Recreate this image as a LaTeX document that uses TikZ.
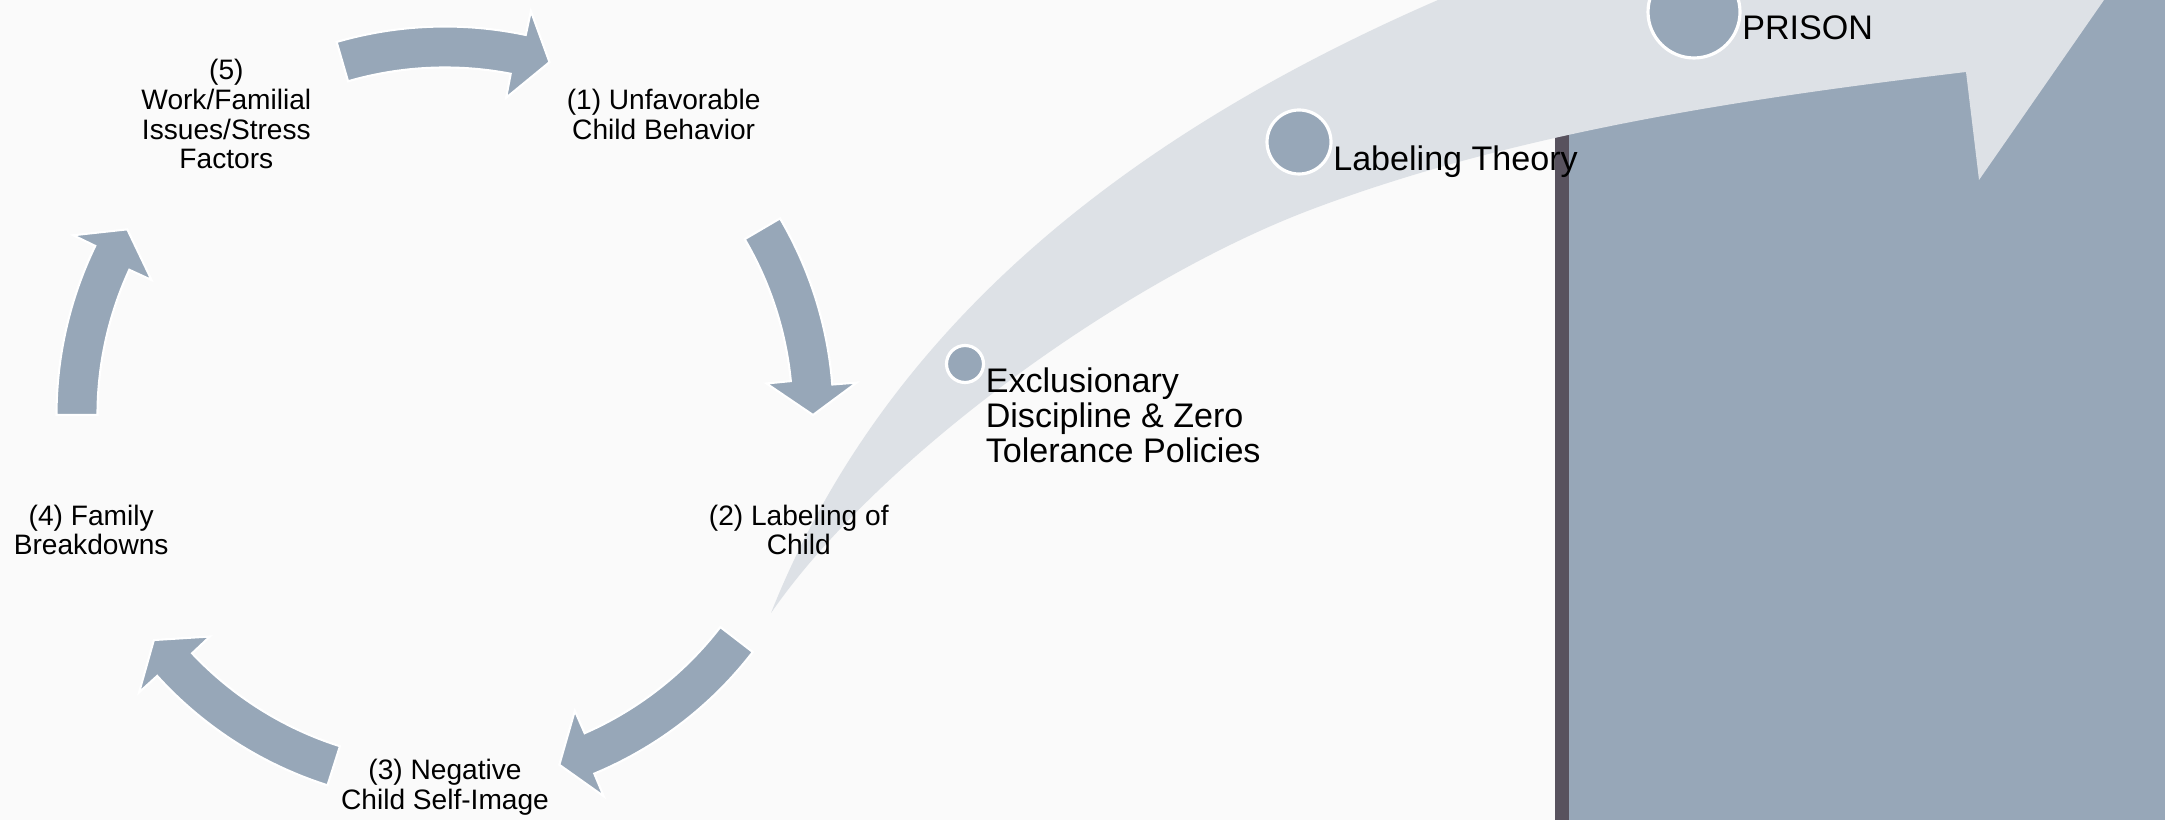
\documentclass[tikz,border=0pt]{standalone}
\usepackage{fontspec}
\setmainfont{Liberation Sans}
\usetikzlibrary{calc}

\definecolor{slate}{HTML}{97A7B8}
\definecolor{mist}{HTML}{DDE1E6}
\definecolor{paper}{HTML}{FAFAFA}
\definecolor{plum}{HTML}{58525E}

\tikzset{
	cycarrow/.style={fill=slate, draw=white, line width=0.6pt},
	cyctext/.style={align=center, inner sep=0pt, font=\fontsize{8pt}{8.5pt}\selectfont},
	dot/.style={circle, fill=slate, draw=white, line width=0.9pt, inner sep=0pt},
	bandtext/.style={inner sep=0pt, font=\fontsize{9.7pt}{10pt}\selectfont}
}

\begin{document}
\begin{tikzpicture}
	\useasboundingbox (0,0) rectangle (21.65,8.2);
	\clip (0,0) rectangle (21.65,8.2);
	\fill[paper] (0,0) rectangle (21.65,8.2);
	\fill[slate] (15.687,0) rectangle (21.65,8.2);
	\fill[plum] (15.55,0) rectangle (15.687,7);

	\fill[mist] (7.71,2.07) .. controls (8.79,3.63) and (11.23,5.39) .. (13.10,6.10)
		.. controls (15.16,6.88) and (17.48,7.22) .. (19.66,7.48)
		-- (19.79,6.40) -- (21.04,8.20) -- (22.0,9.6) -- (16.5,9.1) -- (14.38,8.20)
		.. controls (11.16,6.80) and (8.82,4.86) .. (7.71,2.07) -- cycle;

	\node[dot, minimum size=3.7mm] (exdot) at (9.65,4.56) {};
	\node[dot, minimum size=6.4mm] (labdot) at (12.99,6.78) {};
	\node[dot, minimum size=9.2mm] (prisondot) at (16.94,8.08) {};
	\node[bandtext, anchor=north west, align=left] (extxt) at ([yshift=-0.3mm]exdot.east)
		{Exclusionary\\Discipline \& Zero\\Tolerance Policies};
	\node[bandtext, anchor=base west] (labtxt) at ([yshift=-2.85mm]labdot.east) {Labeling Theory};
	\node[bandtext, anchor=base west] (prisontxt) at ([yshift=-2.8mm]prisondot.east) {PRISON};

	\begin{scope}[shift={(4.45,4.05)}]
		\def\cycR{3.68}
		\pgfmathsetmacro\ro{\cycR+0.205}
		\pgfmathsetmacro\ri{\cycR-0.205}
		\pgfmathsetmacro\rh{\cycR+0.45}
		\pgfmathsetmacro\rl{\cycR-0.45}
		\foreach \a/\b in {106.2/73.5, 30.4/0, -37.6/-71.9, -107.6/-142.3, 180/149.7} {
			\pgfmathsetmacro\nko{\b+4.5}
			\pgfmathsetmacro\nki{\b+5.6}
			\fill[cycarrow] (\a:\ro) arc[start angle=\a, end angle=\nko, radius=\ro]
				-- (\nko:\rh) -- (\b:\cycR) -- (\nki:\rl) -- (\nki:\ri)
				arc[start angle=\nki, end angle=\a, radius=\ri] -- cycle;
		}
		\node[cyctext] (s1) at (54:3.72) {(1) Unfavorable\\Child Behavior};
		\node[cyctext] (s2) at (-18:3.72) {(2) Labeling of\\Child};
		\node[cyctext] (s3) at (-90:3.72) {(3) Negative\\Child Self-Image};
		\node[cyctext] (s4) at (198:3.72) {(4) Family\\Breakdowns};
		\node[cyctext] (s5) at (126:3.72) {(5)\\Work/Familial\\Issues/Stress\\Factors};
	\end{scope}
\end{tikzpicture}
\end{document}
